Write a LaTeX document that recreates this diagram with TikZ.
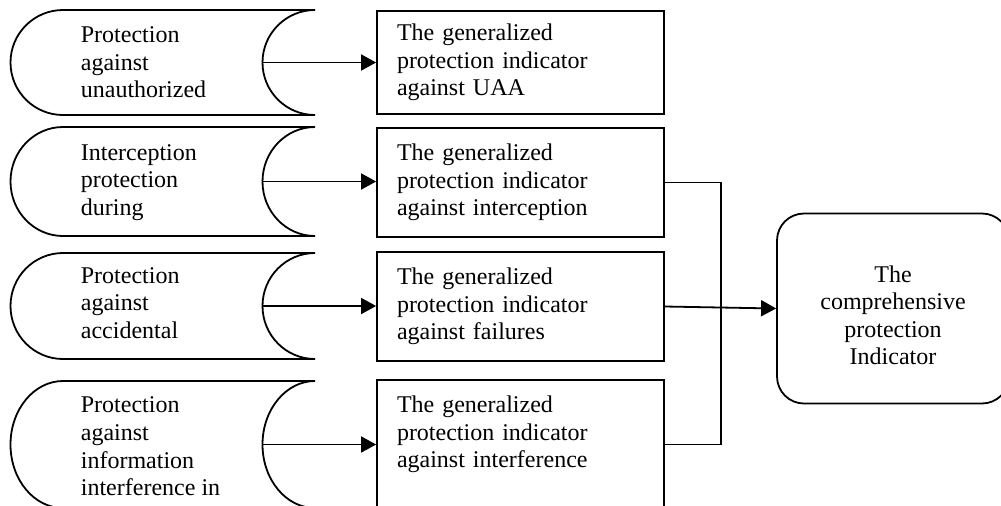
\documentclass[tikz,border=0pt]{standalone}
\usepackage{fontspec}
\setmainfont{Liberation Serif}
\usetikzlibrary{arrows.meta}

\tikzset{
  every node/.style={font=\fontsize{12}{13.8}\selectfont},
  stored/.style={anchor=west, align=left, inner sep=0pt},
  genbox/.style={draw, rectangle, minimum width=143.5pt, text width=123.5pt, inner xsep=10pt, align=left},
  total/.style={draw, rounded corners=13.5pt, minimum width=116pt, minimum height=95pt, text width=100pt, align=center},
  arr/.style={-{Triangle[length=7.5pt,width=8pt]}}
}

\begin{document}
\begin{tikzpicture}[x=0.5pt, y=-0.5pt, line width=0.9pt]
\useasboundingbox (0,0) rectangle (1001,505);
\clip (0,0) rectangle (1001,505);
\pgfmathsetmacro{\rx}{52.5}
\draw (315,10) arc[start angle=270, end angle=90, x radius=\rx, y radius=52.5] -- (63,115) arc[start angle=90, end angle=270, x radius=\rx, y radius=52.5] -- cycle;
\draw (315,127) arc[start angle=270, end angle=90, x radius=\rx, y radius=54.5] -- (63,236) arc[start angle=90, end angle=270, x radius=\rx, y radius=54.5] -- cycle;
\draw (315,253) arc[start angle=270, end angle=90, x radius=\rx, y radius=53] -- (63,359) arc[start angle=90, end angle=270, x radius=\rx, y radius=53] -- cycle;
\draw (315,381) arc[start angle=270, end angle=90, x radius=\rx, y radius=63.5] -- (63,508) arc[start angle=90, end angle=270, x radius=\rx, y radius=63.5] -- cycle;
\coordinate (a1) at (262.5,62.5);
\coordinate (a2) at (262.5,181.5);
\coordinate (a3) at (262.5,306);
\coordinate (a4) at (262.5,444.5);

\node (s1) [stored] at (80,62.5) {Protection\\against\\unauthorized};
\node (s2) [stored] at (80,182.5) {Interception\\protection\\during};
\node (s3) [stored] at (80,303) {Protection\\against\\accidental};
\node (s4) [stored] at (80,446.5) {Protection\\against\\information\\interference in};

\node (b1) [genbox, minimum height=51.5pt] at (520.5,62.5) {The generalized\\protection indicator\\against UAA};
\node (b2) [genbox, minimum height=54.5pt] at (520.5,182.5) {The generalized\\protection indicator\\against interception};
\node (b3) [genbox, minimum height=54.5pt] at (520.5,306.5) {The generalized\\protection indicator\\against failures};
\node (b4) [genbox, minimum height=64.5pt, text depth=40.2pt] at (520.5,444.5) {The generalized\\protection indicator\\against interference};

\node (c) [total, text height=15.2pt] at (893,308.5) {The\\comprehensive\\protection\\Indicator};

\draw[arr] (a1) -- (a1 -| b1.west);
\draw[arr] (a2) -- (a2 -| b2.west);
\draw[arr] (a3) -- (a3 -| b3.west);
\draw[arr] (a4) -- (a4 -| b4.west);
\draw (b2.east) -- ++(56,0) |- (b4.east);
\draw[arr] (b3.east) -- (c.west);
\end{tikzpicture}
\end{document}
